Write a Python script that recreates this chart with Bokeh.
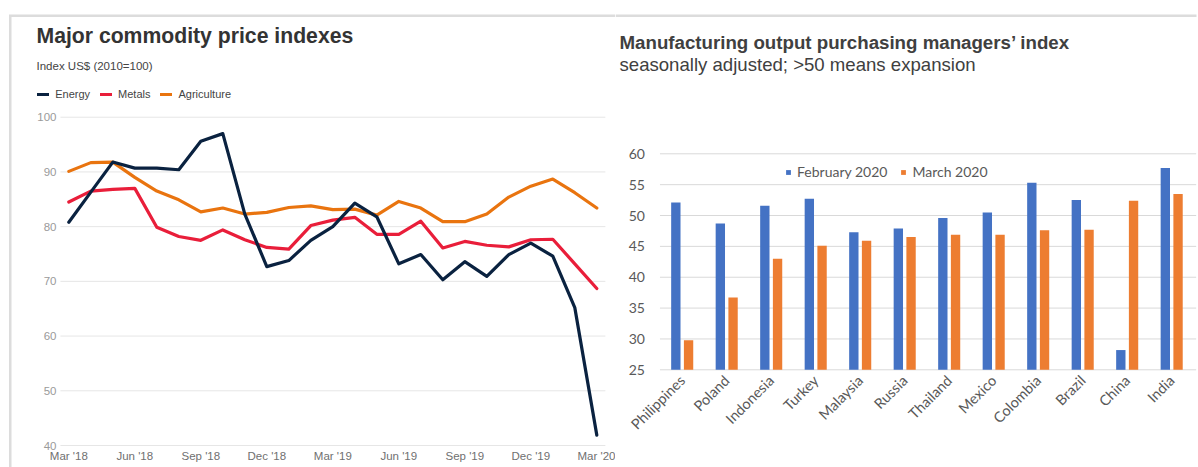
import math
from bokeh.plotting import figure
from bokeh.models import (ColumnDataSource, FixedTicker, Label, Legend, LegendItem,
                          BoxAnnotation, Range1d)
from bokeh.transform import dodge
from bokeh.embed import file_html
from bokeh.resources import INLINE

# ---------------- data: left chart ----------------
months = ["Mar '18", "Apr '18", "May '18", "Jun '18", "Jul '18", "Aug '18", "Sep '18",
          "Oct '18", "Nov '18", "Dec '18", "Jan '19", "Feb '19", "Mar '19", "Apr '19",
          "May '19", "Jun '19", "Jul '19", "Aug '19", "Sep '19", "Oct '19", "Nov '19",
          "Dec '19", "Jan '20", "Feb '20", "Mar '20"]
energy = [80.8, 86.3, 91.8, 90.7, 90.7, 90.4, 95.6, 97.0, 82.3, 72.7, 73.8, 77.5, 80.0,
          84.3, 81.8, 73.2, 74.9, 70.3, 73.6, 70.9, 74.9, 77.0, 74.6, 65.2, 41.9]
metals = [84.5, 86.5, 86.8, 87.0, 79.9, 78.2, 77.5, 79.4, 77.6, 76.2, 75.9, 80.2, 81.2,
          81.7, 78.6, 78.6, 81.0, 76.1, 77.3, 76.6, 76.3, 77.6, 77.7, 73.2, 68.7]
agriculture = [90.1, 91.7, 91.8, 89.0, 86.5, 84.9, 82.7, 83.4, 82.3, 82.6, 83.5, 83.8, 83.1,
               83.2, 82.1, 84.6, 83.4, 80.9, 80.9, 82.3, 85.4, 87.4, 88.7, 86.2, 83.4]
month_tick_labels = ["Mar '18", "Jun '18", "Sep '18", "Dec '18", "Mar '19", "Jun '19",
                     "Sep '19", "Dec '19", "Mar '20"]
left_y_ticks = [40, 50, 60, 70, 80, 90, 100]

# ---------------- data: right chart ----------------
countries = ["Philippines", "Poland", "Indonesia", "Turkey", "Malaysia", "Russia",
             "Thailand", "Mexico", "Colombia", "Brazil", "China", "India"]
feb_2020 = [52.1, 48.7, 51.6, 52.7, 47.3, 47.9, 49.6, 50.5, 55.3, 52.5, 28.2, 57.7]
mar_2020 = [29.8, 36.7, 43.0, 45.1, 45.9, 46.5, 46.9, 46.9, 47.6, 47.7, 52.4, 53.5]
right_y_ticks = [25, 30, 35, 40, 45, 50, 55, 60]

SANS = "Liberation Sans"
BORDER = "#dcdcdc"
H = 467


def scr(y_px):
    """page pixel row -> screen units (from the bottom of the canvas)"""
    return H - y_px


def box(p, left, right, top, bottom):
    p.add_layout(BoxAnnotation(left=left, right=right, top=scr(top), bottom=scr(bottom),
                               left_units="screen", right_units="screen",
                               top_units="screen", bottom_units="screen",
                               fill_color=BORDER, fill_alpha=1, line_color=None))


def bare_axes(p, font, size, color):
    for ax in (p.xaxis[0], p.yaxis[0]):
        ax.axis_line_color = None
        ax.major_tick_line_color = None
        ax.minor_tick_line_color = None
        ax.major_tick_out = 0
        ax.major_tick_in = 0
        ax.minor_tick_out = 0
        ax.minor_tick_in = 0
        ax.major_label_text_font = font
        ax.major_label_text_font_size = size
        ax.major_label_text_color = color
    p.xgrid.visible = False
    p.ygrid.visible = False
    p.outline_line_color = None
    p.background_fill_color = "white"
    p.border_fill_color = "white"
    p.min_border_left = p.min_border_right = p.min_border_top = p.min_border_bottom = 0


# ================= left figure =================
idx = list(range(len(months)))
src1 = ColumnDataSource(dict(i=idx, energy=energy, metals=metals, agri=agriculture))

# frame covers the whole canvas; ranges chosen so that plot area = x 60..605, y 116.7..445 px
p1 = figure(width=615, height=H, output_backend="svg", toolbar_location=None,
            x_range=Range1d(-3.105, 24.85), y_range=Range1d(35.98, 121.33))
p1.styles = {"float": "left"}
bare_axes(p1, SANS, "11.5px", "#9a9a9a")

grid1 = ColumnDataSource(dict(tick=left_y_ticks))
p1.segment(x0=-0.38, x1=24.39, y0="tick", y1="tick", source=grid1,
           line_color="#e6e6e6", line_width=1)

r_a = p1.line("i", "agri", source=src1, line_color="#e9740f", line_width=3.2,
              line_join="round", line_cap="round")
r_m = p1.line("i", "metals", source=src1, line_color="#e91e3a", line_width=3.2,
              line_join="round", line_cap="round")
r_e = p1.line("i", "energy", source=src1, line_color="#0a2240", line_width=3.2,
              line_join="round", line_cap="round")

tick_pos = [months.index(m) for m in month_tick_labels]
p1.xaxis.ticker = FixedTicker(ticks=tick_pos)
p1.xaxis.major_label_overrides = {pos: lab for pos, lab in zip(tick_pos, month_tick_labels)}
p1.xaxis.fixed_location = 40
p1.xaxis.major_label_standoff = 4
p1.xaxis.major_label_text_color = "#707070"
p1.yaxis.ticker = FixedTicker(ticks=left_y_ticks)
p1.yaxis.fixed_location = -0.38
p1.yaxis.major_label_standoff = 4

p1.add_layout(Label(x=36, y=scr(35), x_units="screen", y_units="screen",
                    text="Major commodity price indexes", text_font=SANS,
                    text_font_style="bold", text_font_size="21.2px",
                    text_color="#333333", text_baseline="alphabetic"))
p1.add_layout(Label(x=36, y=scr(65.4), x_units="screen", y_units="screen",
                    text="Index US$ (2010=100)", text_font=SANS,
                    text_font_size="11.5px", text_color="#444444",
                    text_baseline="alphabetic"))

leg1 = Legend(items=[LegendItem(label="Energy", renderers=[r_e]),
                     LegendItem(label="Metals", renderers=[r_m]),
                     LegendItem(label="Agriculture", renderers=[r_a])],
              location=(37.2, scr(101.3)), orientation="horizontal",
              glyph_width=12, glyph_height=14, label_height=14, label_standoff=6,
              spacing=10, padding=0, margin=0, border_line_color=None,
              background_fill_alpha=0, label_text_font=SANS,
              label_text_font_size="11px", label_text_color="#444444")
p1.add_layout(leg1)

# panel frame: top rule and left edge
box(p1, 8.5, 615, 14, 16.5)
box(p1, 8.5, 11, 15, 467)

# ================= right figure =================
pos = list(range(len(countries)))
src2 = ColumnDataSource(dict(pos=pos, feb=feb_2020, mar=mar_2020))

# frame covers the whole canvas; plot area = x 659.5..1193.5, y 153.3..369.3 px (page)
p2 = figure(width=582, height=H, output_backend="svg", toolbar_location=None,
            x_range=Range1d(-1.499, 11.58), y_range=Range1d(9.17, 84.84))
p2.styles = {"float": "left"}
bare_axes(p2, "Lato", "14px", "#595959")

grid2 = ColumnDataSource(dict(tick=right_y_ticks))
p2.segment(x0=-0.5, x1=11.55, y0="tick", y1="tick", source=grid2,
           line_color="#d9d9d9", line_width=1)

b1 = p2.vbar(x=dodge("pos", -0.143), top="feb", bottom=25, width=0.21, source=src2,
             fill_color="#4472c4", line_color=None)
b2 = p2.vbar(x=dodge("pos", 0.143), top="mar", bottom=25, width=0.21, source=src2,
             fill_color="#ed7d31", line_color=None)

p2.xaxis.ticker = FixedTicker(ticks=pos)
p2.xaxis.major_label_overrides = {i: c for i, c in zip(pos, countries)}
p2.xaxis.fixed_location = 25
p2.xaxis.major_label_orientation = math.pi / 4
p2.xaxis.major_label_standoff = 8
p2.xaxis.major_label_text_font_size = "14.5px"
p2.yaxis.ticker = FixedTicker(ticks=right_y_ticks)
p2.yaxis.fixed_location = -0.5
p2.yaxis.major_label_standoff = 15

p2.add_layout(Label(x=4, y=scr(42), x_units="screen", y_units="screen",
                    text="Manufacturing output purchasing managers\u2019 index",
                    text_font=SANS, text_font_style="bold", text_font_size="18.7px",
                    text_color="#404040", text_baseline="alphabetic"))
p2.add_layout(Label(x=4, y=scr(64.2), x_units="screen", y_units="screen",
                    text="seasonally adjusted; >50 means expansion",
                    text_font=SANS, text_font_size="18.6px",
                    text_color="#404040", text_baseline="alphabetic"))

leg2 = Legend(items=[LegendItem(label="February 2020", renderers=[b1]),
                     LegendItem(label="March 2020", renderers=[b2])],
              location=(170, scr(180.2)), orientation="horizontal",
              glyph_width=6, glyph_height=6, label_height=17, label_standoff=6,
              spacing=13, padding=0, margin=0, border_line_color=None,
              background_fill_alpha=0, label_text_font="Lato",
              label_text_font_size="14px", label_text_color="#595959")
p2.add_layout(leg2)

box(p2, 0, 581, 14, 16.5)

# two independent roots, floated side by side
p = [p1, p2]
open("out.html", "w").write(file_html(p, INLINE))
